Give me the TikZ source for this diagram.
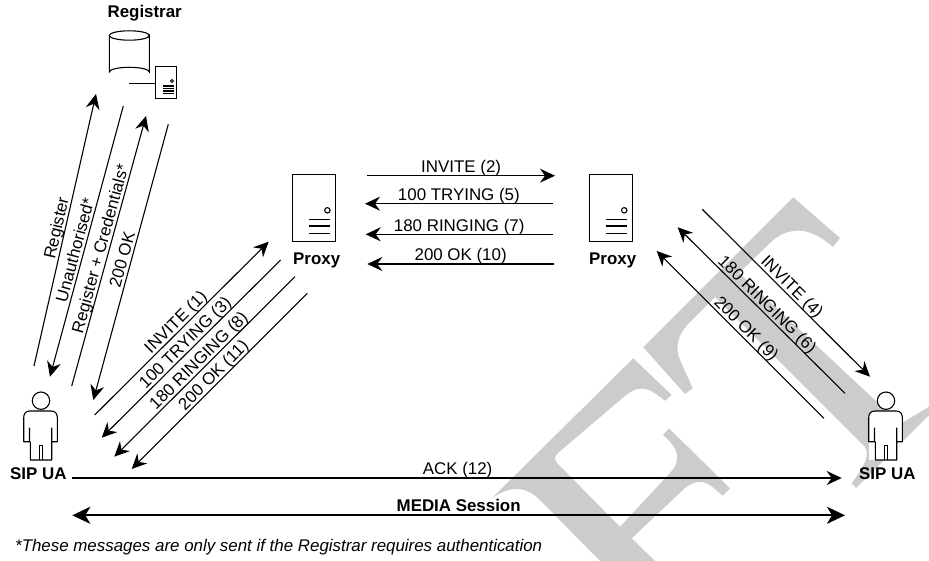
\documentclass[tikz,border=0pt]{standalone}
\usepackage{fontspec}
\setmainfont{Liberation Sans}
\usetikzlibrary{arrows.meta}
\tikzset{
  x=1pt,y=-1pt,
  every node/.style={font=\fontsize{16.9}{18}\selectfont,inner sep=0pt},
  msg/.style={draw=black,line width=1.1pt,-{Stealth[length=15pt,width=14pt,inset=5pt]}},
  lbl/.style={midway,sloped,above=0pt,text depth=2.6pt},
  title/.style={font=\fontsize{16.9}{18}\selectfont\bfseries},
  icon/.style={draw=black,line width=1.1pt,fill=white},
  stroke1/.style={draw=black,line width=1.1pt},
  wm/.style={fill=black!20,draw=none},
  personicon/.pic={
    \fill[white] (-17.3,17) rectangle (16.3,59);
    \draw[icon] (0,0) circle (8.7);
    \draw[icon,line join=round] (-11.5,41) -- (-17.3,41) -- (-17.3,17) .. controls (-17.3,12.5) and (-15,10.3) .. (-11,10.3) -- (10,10.3) .. controls (14,10.3) and (16.3,12.5) .. (16.3,17) -- (16.3,41) -- (10.7,41) -- (10.7,27) (10.7,41) -- (10.7,59.3) -- (-10.7,59.3) -- (-10.7,41) (-11.5,41) -- (-11.5,27);
    \draw[stroke1] (-1.7,59.3) -- (-1.7,45) -- (1.3,45) -- (1.3,59.3);
  },
  serverbox/.pic={
    \draw[icon] (0,0) rectangle (43.2,67.4);
    \draw[stroke1] (35,36) circle (2.7);
    \draw[stroke1] (16.7,45) -- (37.7,45) (16.7,51.7) -- (37.7,51.7) (16.7,59) -- (37.7,59);
  },
}
\begin{document}
\begin{tikzpicture}
\useasboundingbox (0,0) rectangle (929,561);
% watermark
\fill[wm] (633.3,358.3) -- (671.7,395) -- (665,400.7) .. controls (652,391) and (643,382) .. (626,395) -- (558,453) .. controls (554,457) and (554,460) .. (558,464) -- (620,526.7) -- (670,473) .. controls (677,465) and (678,459) .. (676.7,453) .. controls (675,447) and (670,441) .. (663,435) -- (669,428.3) -- (730,488.3) -- (722.7,495.7) .. controls (712,487) and (703,474) .. (685,488) -- (631.7,538.3) -- (655,561) -- (600,561) -- (540,500) .. controls (530,490) and (515,482) .. (491.7,498.3) -- cycle;
\fill[wm] (793.3,197.3) -- (840,238) -- (833,247) .. controls (820,236) and (805,226) .. (785,233) .. controls (778,236) and (773,240) .. (770,243) -- (739,273) -- (878,403) .. controls (890,415) and (895,428) .. (907,420) -- (929,406.7) -- (929,415) -- (856,488) -- (851.7,483.3) .. controls (865,465) and (870,455) .. (865,447) -- (715,297) -- (690,322) .. controls (675,337) and (676,350) .. (680,360) -- (692.7,388.3) -- (685,394) -- (643.3,347.3) -- cycle;
% icons
\pic at (292.4,174.3) {serverbox};
\pic at (589.2,174.3) {serverbox};
\draw[icon] (109.3,35.5) -- (109.3,72) arc[start angle=180,end angle=360,x radius=20,y radius=4.7] -- (149.3,35.5) arc[start angle=0,end angle=180,x radius=20,y radius=4.7] arc[start angle=180,end angle=360,x radius=20,y radius=4.7];
\draw[stroke1] (129,83.7) -- (155.3,83.7);
\draw[icon] (155.3,66.3) rectangle (176.3,98.7);
\draw[stroke1,line width=.8pt] (172,81) circle (1.5);
\draw[stroke1] (163.3,86) -- (174,86) (163.3,88.7) -- (174,88.7) (163.3,91) -- (174,91) (163.3,93.3) -- (174,93.3);
\pic at (41,400.7) {personicon};
\pic at (886,400.7) {personicon};
% titles
\node[title] (registrar) at (144.7,13) {Registrar};
\node[title] (proxyA) at (316.7,260) {Proxy};
\node[title] (proxyB) at (612.7,260) {Proxy};
\node[title] (uaA) at (38.3,474) {SIP UA};
\node[title] (uaB) at (887.3,474) {SIP UA};
% end points
\coordinate (r1a) at (34,366);    \coordinate (r1b) at (96,94);
\coordinate (r2a) at (123.3,106); \coordinate (r2b) at (50,376.7);
\coordinate (r3a) at (71.7,386);  \coordinate (r3b) at (146,116);
\coordinate (r4a) at (168.3,124.3); \coordinate (r4b) at (93.3,400);
\coordinate (p1a) at (94.7,415);  \coordinate (p1b) at (268.7,241.7);
\coordinate (p2a) at (280.7,260); \coordinate (p2b) at (101.7,437.7);
\coordinate (p3a) at (295,276.7); \coordinate (p3b) at (114.3,456.7);
\coordinate (p4a) at (307.3,293.3); \coordinate (p4b) at (131.7,469);
\coordinate (h1a) at (367.3,175.7); \coordinate (h1b) at (555,175.7);
\coordinate (h2a) at (552.7,203.7); \coordinate (h2b) at (365,203.7);
\coordinate (h3a) at (552.7,234.3); \coordinate (h3b) at (365.7,234.3);
\coordinate (h4a) at (554,264);   \coordinate (h4b) at (367.3,264);
\coordinate (q1a) at (702.3,209.3); \coordinate (q1b) at (870,376.7);
\coordinate (q2a) at (845,393.3); \coordinate (q2b) at (677.7,227.3);
\coordinate (q3a) at (824,418.3); \coordinate (q3b) at (656.7,251);
\coordinate (ackA) at (72,478);   \coordinate (ackB) at (841.7,478);
\coordinate (medA) at (72.3,515.3); \coordinate (medB) at (845,515.3);
% messages
\draw[msg] (r1a) -- node[lbl] (t1) {Register} (r1b);
\draw[msg] (r2a) -- node[lbl,pos=.54] (t2) {Unauthorised*} (r2b);
\draw[msg] (r3a) -- node[lbl] (t3) {Register + Credentials*} (r3b);
\draw[msg] (r4a) -- node[lbl] (t4) {200 OK} (r4b);
\draw[msg] (p1a) -- node[lbl] (t5) {INVITE (1)} (p1b);
\draw[msg] (p2a) -- node[lbl] (t6) {100 TRYING (3)} (p2b);
\draw[msg] (p3a) -- node[lbl] (t7) {180 RINGING (8)} (p3b);
\draw[msg] (p4a) -- node[lbl] (t8) {200 OK (11)} (p4b);
\draw[msg] (h1a) -- node[lbl] (t9) {INVITE (2)} (h1b);
\draw[msg] (h2a) -- node[lbl] (t10) {100 TRYING (5)} (h2b);
\draw[msg] (h3a) -- node[lbl] (t11) {180 RINGING (7)} (h3b);
\draw[msg] (h4a) -- node[lbl] (t12) {200 OK (10)} (h4b);
\draw[msg] (q1a) -- node[lbl] (t13) {INVITE (4)} (q1b);
\draw[msg] (q2a) -- node[lbl] (t14) {180 RINGING (6)} (q2b);
\draw[msg] (q3a) -- node[lbl] (t15) {200 OK (9)} (q3b);
\draw[msg,line width=1.5pt] (ackA) -- node[lbl,pos=.501] (t16) {ACK (12)} (ackB);
\draw[draw=black,line width=2pt,{Stealth[length=18pt,width=17pt,inset=5pt]}-{Stealth[length=18pt,width=17pt,inset=5pt]}] (medA) -- node[lbl,title,pos=.5] (t17) {MEDIA Session} (medB);
\node[anchor=west,font=\fontsize{16.9}{18}\selectfont\itshape] (note) at (15,547) {*These messages are only sent if the Registrar requires authentication};
\end{tikzpicture}
\end{document}
